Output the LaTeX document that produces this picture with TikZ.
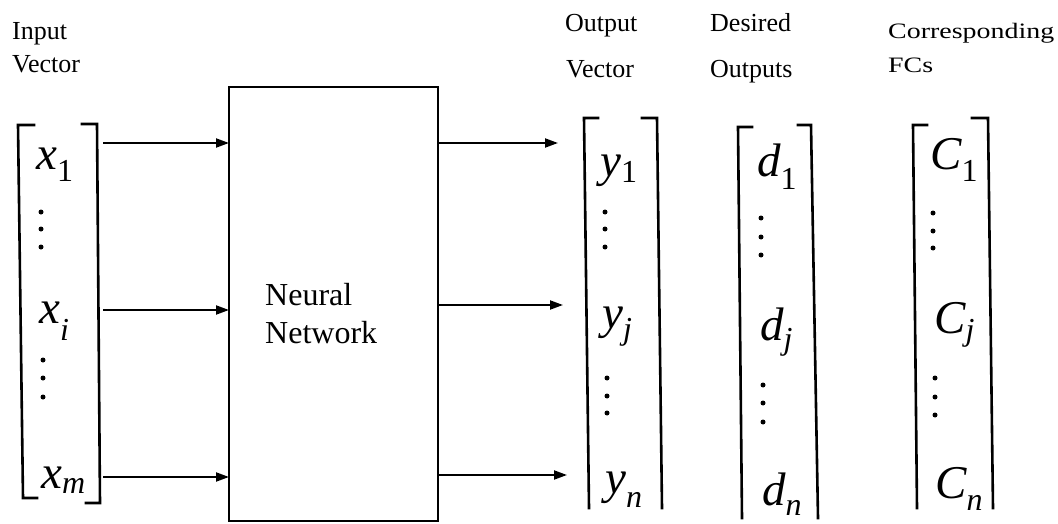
\documentclass[tikz,border=0pt]{standalone}
\usepackage{fontspec}
\setmainfont{Liberation Serif}
\usetikzlibrary{arrows.meta}
\newcommand{\ent}[3]{{\fontsize{47}{47}\selectfont\itshape #1}\raisebox{-#3pt}{\fontsize{32}{32}\selectfont #2}}
\tikzset{
  arr/.style={line width=2pt,-{Triangle[length=13pt,width=9pt]}},
  brk/.style={line width=2.6pt,line cap=rect},
  lab/.style={anchor=base west,inner sep=0,font=\fontsize{26}{26}\selectfont},
  ent/.style={anchor=base west,inner sep=0},
  dotm/.style={fill=black,draw=none}
}
\begin{document}
\begin{tikzpicture}[x=1pt,y=-1pt]
\useasboundingbox (0,0) rectangle (1058,524);
% labels
\node[lab,font=\fontsize{26}{26}\selectfont] (lin1) at (12,40) {Input};
\node[lab,font=\fontsize{26}{26}\selectfont] (lin2) at (12,73) {Vector};
\node[lab] (lout1) at (565,32) {Output};
\node[lab] (lout2) at (566,78) {Vector};
\node[lab] (ldes1) at (710,32) {Desired};
\node[lab] (ldes2) at (710,78) {Outputs};
\node[lab,font=\fontsize{22}{22}\selectfont] (lfc1) at (888,39) {\scalebox{1.27}[1]{Corresponding}};
\node[lab,font=\fontsize{22}{22}\selectfont] (lfc2) at (888,73) {\scalebox{1.27}[1]{FCs}};
% neural network box
\node[draw,line width=2pt,minimum width=209pt,minimum height=434pt,anchor=north west,inner sep=0,outer sep=0] (nn) at (229,87) {};
\node[lab,font=\fontsize{32}{32}\selectfont] (nn1) at (265,305) {Neural};
\node[lab,font=\fontsize{32}{32}\selectfont] (nn2) at (265,343) {Network};
% input bracket
\draw[brk] (34,125) -- (18,125) -- (23,498) -- (37,498);
\draw[brk] (82,124) -- (97,124) -- (100,503) -- (86,503);
\node[ent] (x1) at (36,170) {\ent{x}{1}{12}};
\node[ent] (xi) at (39,323) {\ent{x}{\itshape i}{17}};
\node[ent] (xm) at (41,488) {\ent{x}{\itshape m}{5}};
\foreach \yy in {212,229,247} \fill[dotm] (41,\yy) circle (2.5);
\foreach \yy in {360,378,397} \fill[dotm] (43,\yy) circle (2.5);
% output bracket
\draw[brk] (598,118) -- (584,118) -- (589,508);
\draw[brk] (642,118) -- (657,118) -- (662,508);
\node[ent] (y1) at (600,176) {\ent{y}{1}{6}};
\node[ent] (yj) at (602,328) {\ent{y}{\itshape j}{11}};
\node[ent] (yn) at (605,493) {\ent{y}{\itshape n}{14}};
\foreach \yy in {212,229,247} \fill[dotm] (605,\yy) circle (2.5);
\foreach \yy in {378,396,413} \fill[dotm] (607,\yy) circle (2.5);
% desired bracket
\draw[brk] (752,127) -- (738,127) -- (742,518);
\draw[brk] (798,125) -- (811,125) -- (818,518);
\node[ent] (d1) at (757,177) {\ent{d}{1}{13}};
\node[ent] (dj) at (760,340) {\ent{d}{\itshape j}{9}};
\node[ent] (dn) at (762,505) {\ent{d}{\itshape n}{10}};
\foreach \yy in {218,237,255} \fill[dotm] (761,\yy) circle (2.5);
\foreach \yy in {385,403,422} \fill[dotm] (763,\yy) circle (2.5);
% FC bracket
\draw[brk] (927,125) -- (913,125) -- (917,508);
\draw[brk] (972,118) -- (988,118) -- (993,508);
\node[ent] (c1) at (930,170) {\ent{C}{1}{12}};
\node[ent] (cj) at (934,333) {\ent{C}{\itshape j}{7}};
\node[ent] (cn) at (935,498) {\ent{C}{\itshape n}{12}};
\foreach \yy in {213,231,248} \fill[dotm] (933,\yy) circle (2.5);
\foreach \yy in {378,397,415} \fill[dotm] (935,\yy) circle (2.5);
% arrows
\coordinate (a1) at (103,143);
\coordinate (a2) at (103,310);
\coordinate (a3) at (103,477);
\coordinate (b1) at (558,143);
\coordinate (b2) at (563,305);
\coordinate (b3) at (567,475);
\draw[arr] (a1) -- (a1 -| nn.west);
\draw[arr] (a2) -- (a2 -| nn.west);
\draw[arr] (a3) -- (a3 -| nn.west);
\draw[arr] (b1 -| nn.east) -- (b1);
\draw[arr] (b2 -| nn.east) -- (b2);
\draw[arr] (b3 -| nn.east) -- (b3);
\end{tikzpicture}
\end{document}
